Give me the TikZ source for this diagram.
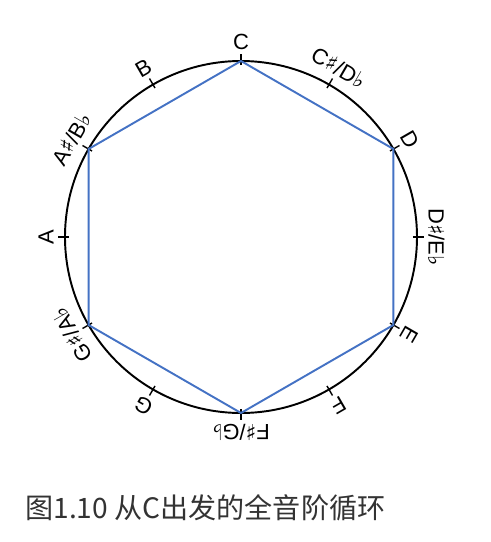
\documentclass[tikz,border=0pt]{standalone}
\usepackage{fontspec}
\setmainfont{Liberation Sans}
\newfontfamily\symfont{DejaVu Sans}
\newfontfamily\cjk{Noto Sans CJK SC}
\newcommand{\sh}{{\symfont\char"266F}}
\newcommand{\fl}{{\symfont\char"266D}}
\definecolor{hexblue}{RGB}{68,114,196}
\definecolor{captiongray}{RGB}{51,51,51}

\begin{document}
\begin{tikzpicture}[
  notelabel/.style={font=\fontsize{12.5}{14}\selectfont, anchor=south, inner sep=0pt},
  hexline/.style={hexblue, line width=1.1pt, line join=miter},
]
\useasboundingbox (-4.82,-6.10) rectangle (4.98,4.74);
\draw [black, line width=1.1pt] (0,0) circle (3.52);
% notes round the circle, C on top
\foreach \ang/\nm/\txt in {90/c/C, 60/cs/{C\sh/D\fl}, 30/d/D, 0/ds/{D\sh/E\fl},
    -30/e/E, -60/f/F, -90/fs/{F\sh/G\fl}, -120/g/G, -150/gs/{G\sh/A\fl},
    180/a/A, 150/as/{A\sh/B\fl}, 120/b/B} {
  \draw [black, line width=0.8pt] (\ang:3.44) -- (\ang:3.66);
  \coordinate (v-\nm) at (\ang:3.52);
  \node [notelabel, rotate=\ang-90] (lbl-\nm) at (\ang:3.74) {\txt};
}
\draw [hexline] (v-c) -- (v-d) -- (v-e) -- (v-fs) -- (v-gs) -- (v-as) -- cycle;
\node [anchor=base west, inner sep=0pt, text=captiongray, font=\cjk\fontsize{16}{18}\selectfont] (caption) at (-4.32,-5.62) {图1.10 从C出发的全音阶循环};
\end{tikzpicture}
\end{document}
